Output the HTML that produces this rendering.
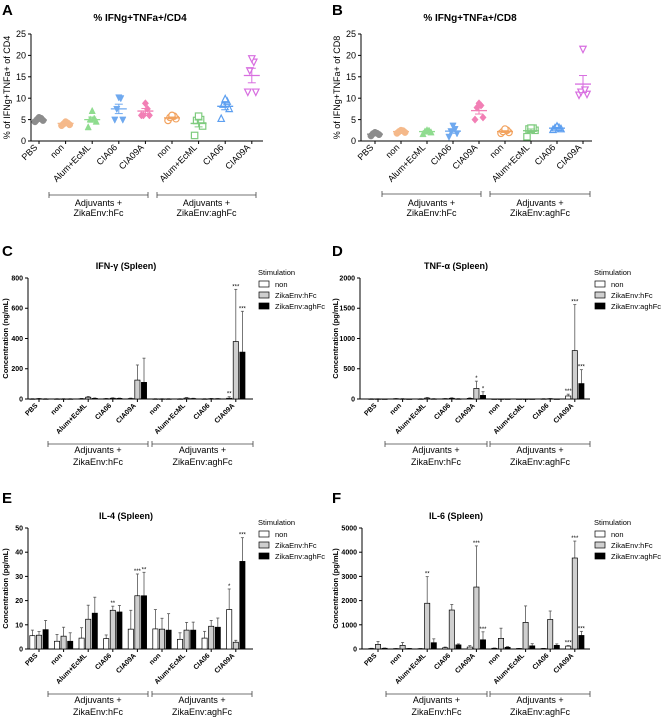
<!DOCTYPE html>
<html><head><meta charset="utf-8">
<style>
html,body{margin:0;padding:0;background:#fff;}
svg{display:block;font-family:"Liberation Sans",Arial,sans-serif;}
</style></head>
<body>
<svg id="fig" width="661" height="717" viewBox="0 0 661 717" xmlns="http://www.w3.org/2000/svg"></svg>
<script>
const cats = ["PBS","non","Alum+EcML","CIA06","CIA09A","non","Alum+EcML","CIA06","CIA09A"];
// Panel A (CD4) points
const aPts = [[4.5,4.8,5,5.3,5.5],[3.6,3.8,4,4.2,4.5],[3.2,4.5,5,5.2,7],[5,5,7.5,10,10.2],[6,6,6,7.5,8.8],[4.8,5.2,5.5,5.8,6],[1.3,3.5,4.8,5,5.8],[5.2,7.5,8.5,9.2,9.8],[11.5,11.5,16.5,18.5,19.3]];
const aMean = [4.9,4.1,5,7.5,7,5.4,4.1,8.1,15.3];
const aSem = [0.3,0.2,0.6,1.1,0.6,0.2,0.8,0.8,1.7];
// Panel B (CD8) points
const bPts = [[1.2,1.5,1.7,1.8,2],[1.8,2,2.2,2.4,2.5],[1.6,2,2.2,2.4,2.5],[1,1.8,2.3,2.8,3.6],[5,5.5,7.8,8.3,8.8],[1.8,2,2.2,2.5,2.8],[1,2.5,2.8,3,3],[2.6,2.8,3,3.1,3.4],[10.8,11,11.5,12,21.5]];
const bMean = [1.6,2.2,2.2,2.3,7.1,2.2,2.4,3,13.3];
const bSem = [0.2,0.2,0.2,0.5,0.8,0.2,0.4,0.2,2];
const scatterTicks = [0,5,10,15,20,25];
// Panel C IFN-g
const cNon = [1,1,2,2,3,1,1,1,5];
const cHfc = [2,1,12,5,125,1,6,2,380];
const cAgh = [1,1,4,4,110,1,3,2,310];
const cNonErr = [1,1,2,2,3,1,1,1,10];
const cHfcErr = [2,1,5,3,100,1,4,2,345];
const cAghErr = [1,1,3,2,160,1,2,1,270];
const cStars = [[8,0,"**"],[8,1,"***"],[8,2,"***"]];
const cTicks = [0,200,400,600,800];
// Panel D TNF-a
const dNon = [2,5,2,5,10,1,1,3,50];
const dHfc = [2,3,15,12,175,1,1,5,800];
const dAgh = [1,1,3,3,60,1,1,1,255];
const dNonErr = [2,3,3,3,8,1,1,2,30];
const dHfcErr = [2,3,10,8,120,1,1,3,760];
const dAghErr = [1,1,3,3,60,1,1,1,230];
const dStars = [[4,1,"*"],[4,2,"*"],[8,0,"***"],[8,1,"***"],[8,2,"***"]];
const dTicks = [0,500,1000,1500,2000];
// Panel E IL-4
const eNon = [5.5,3.2,4.5,4.3,8.2,8.3,4,4.5,16.3];
const eHfc = [5.7,5.3,12.3,16,22,8.2,7.8,9.4,2.8];
const eAgh = [8,3.2,14.8,15.3,22,7.8,7.8,9,36.2];
const eNonErr = [2.3,2.8,4.3,1.5,7.8,8,2.7,2.8,8.5];
const eHfcErr = [1.5,3.7,5.8,1.7,9,4.5,3.2,2.4,0.8];
const eAghErr = [3.8,3.5,6.6,2.7,9.7,6.8,3.3,3.8,9.8];
const eStars = [[3,1,"**"],[4,1,"***"],[4,2,"**"],[8,0,"*"],[8,2,"***"]];
const eTicks = [0,10,20,30,40,50];
// Panel F IL-6
const fNon = [20,15,15,50,80,30,20,20,120];
const fHfc = [190,150,1890,1610,2560,440,1100,1220,3760];
const fAgh = [30,20,260,170,380,70,130,150,560];
const fNonErr = [10,5,5,30,60,10,5,5,20];
const fHfcErr = [120,120,1100,230,1700,420,680,350,700];
const fAghErr = [10,5,160,40,330,30,90,60,170];
const fStars = [[2,1,"**"],[4,1,"***"],[4,2,"***"],[8,0,"***"],[8,1,"***"],[8,2,"***"]];
const fTicks = [0,1000,2000,3000,4000,5000];

const NS = "http://www.w3.org/2000/svg";
const svg = document.getElementById("fig");
function mk(tag, attrs, parent, txt){
  const e = document.createElementNS(NS, tag);
  for (const k in attrs) e.setAttribute(k, attrs[k]);
  if (txt !== undefined) e.textContent = txt;
  (parent || svg).appendChild(e);
  return e;
}
function grp(name, parent){
  const g = mk("g", {}, parent);
  
  
  return g;
}
function panelLetter(letter, x, y){
  const t = mk("text", {x:x, y:y, "font-size":15, "font-weight":"bold"}, svg, letter);
  
  
}
function brackets(g, y, x1, x2, x3, x4, ty, fs, lh){
  [[x1,x2,"ZikaEnv:hFc"],[x3,x4,"ZikaEnv:aghFc"]].forEach(function(b, i){
    const bg = grp(i===0 ? "group-bracket-hfc" : "group-bracket-aghfc", g);
    mk("line",{x1:b[0],y1:y,x2:b[1],y2:y,stroke:"#444","stroke-width":0.8},bg);
    mk("line",{x1:b[0],y1:y-3,x2:b[0],y2:y+3,stroke:"#444","stroke-width":0.8},bg);
    mk("line",{x1:b[1],y1:y-3,x2:b[1],y2:y+3,stroke:"#444","stroke-width":0.8},bg);
    const cx = (b[0]+b[1])/2;
    mk("text",{x:cx,y:ty,"font-size":fs,"text-anchor":"middle"},bg,"Adjuvants +");
    mk("text",{x:cx,y:ty+lh,"font-size":fs,"text-anchor":"middle"},bg,b[2]);
  });
}
function yAxis(g, x, yOf, ticks, fs, bold){
  const ag = grp("y-axis", g);
  mk("line",{x1:x,y1:yOf(ticks[ticks.length-1]),x2:x,y2:yOf(0),stroke:"#000","stroke-width":1},ag);
  ticks.forEach(function(t){
    const y = yOf(t);
    mk("line",{x1:x-3,y1:y,x2:x,y2:y,stroke:"#000","stroke-width":1},ag);
    mk("text",{x:x-5,y:y+fs*0.35,"font-size":fs,"text-anchor":"end","font-weight":bold?"bold":"normal"},ag,String(t));
  });
}
function catLabels(g, xs, axisY, fs, bold){
  const lg = grp("x-axis-labels", g);
  xs.forEach(function(x, i){
    const tx = x - 1, ty = axisY + 7;
    const t = mk("text",{x:tx,y:ty,"font-size":fs,"text-anchor":"end","font-weight":bold?"bold":"normal",transform:"rotate(-45 "+tx+" "+ty+")"},lg,cats[i]);
    
    
  });
}

/* ---------- Scatter panels ---------- */
const fillCols = ["#8c8c8c","#f5b98a","#8fdc8f","#6fa9ef","#f27fb5","#f2a25e","#7ecb7e","#5d9ff0","#d86ee0"];
const shapes = ["circle","circle","tri","dtri","diamond","ocircle","osquare","otri","odtri"];
function marker(g, shape, x, y, col){
  const r = 3.2;
  const open = shape.charAt(0)==="o" && shape!=="odtri" ? true : shape==="odtri";
  const base = open ? shape.slice(1) : shape;
  const st = open ? {fill:"#fff",stroke:col,"stroke-width":1.2} : {fill:col,stroke:col,"stroke-width":0.5};
  let e;
  if (base==="circle") e = mk("circle",Object.assign({cx:x,cy:y,r:r},st),g);
  else if (base==="square") e = mk("rect",Object.assign({x:x-r,y:y-r,width:2*r,height:2*r},st),g);
  else if (base==="tri") e = mk("polygon",Object.assign({points:(x)+","+(y-r-0.5)+" "+(x-r)+","+(y+r-0.5)+" "+(x+r)+","+(y+r-0.5)},st),g);
  else if (base==="dtri") e = mk("polygon",Object.assign({points:(x)+","+(y+r+0.5)+" "+(x-r)+","+(y-r+0.5)+" "+(x+r)+","+(y-r+0.5)},st),g);
  else e = mk("polygon",Object.assign({points:x+","+(y-r-0.5)+" "+(x+r)+","+y+" "+x+","+(y+r+0.5)+" "+(x-r)+","+y},st),g);
  
  
}
function scatterPanel(name, ox, title, ytitle, pts, means, sems, x0, dx, axisX, axisEnd){
  const g = grp(name);
  const y0 = 141, yTop = 34, ymax = 25;
  const yOf = v => y0 - (v/ymax)*(y0-yTop);
  const xOf = i => ox + x0 + i*dx;
  const tt = mk("text",{x:ox+140,y:21,"font-size":10,"font-weight":"bold","text-anchor":"middle"},g,title);
   
  const yt = mk("text",{x:0,y:0,"font-size":9,"text-anchor":"middle",transform:"translate("+(ox+10)+","+((y0+yTop)/2)+") rotate(-90)"},g,ytitle);
   
  yAxis(g, ox+axisX, yOf, scatterTicks, 9, false);
  const xa = grp("x-axis", g);
  mk("line",{x1:ox+axisX,y1:y0,x2:ox+axisEnd,y2:y0,stroke:"#000","stroke-width":1},xa);
  const xs = [];
  for (let i=0;i<pts.length;i++){
    const x = xOf(i); xs.push(x);
    mk("line",{x1:x,y1:y0,x2:x,y2:y0+3,stroke:"#000","stroke-width":1},xa);
    const sg = grp("series-"+i, g);
    const col = fillCols[i];
    const offs = [-4,4,-2,2,0];
    pts[i].forEach(function(v, k){ marker(sg, shapes[i], x + offs[k], yOf(v), col); });
    const m = mk("line",{x1:x-8,y1:yOf(means[i]),x2:x+8,y2:yOf(means[i]),stroke:col,"stroke-width":1.3},sg);
     
    mk("line",{x1:x,y1:yOf(means[i]-sems[i]),x2:x,y2:yOf(means[i]+sems[i]),stroke:col,"stroke-width":1},sg);
    mk("line",{x1:x-4,y1:yOf(means[i]-sems[i]),x2:x+4,y2:yOf(means[i]-sems[i]),stroke:col,"stroke-width":1},sg);
    mk("line",{x1:x-4,y1:yOf(means[i]+sems[i]),x2:x+4,y2:yOf(means[i]+sems[i]),stroke:col,"stroke-width":1},sg);
  }
  catLabels(g, xs, y0, 9, false);
}

/* ---------- Bar panels ---------- */
function barPanel(name, ox, oy, title, ticks, non, hfc, agh, nonE, hfcE, aghE, stars, axisX, x0, axisEnd, b1, b2, legX){
  const g = grp(name);
  const y0 = oy + 139, yTop = oy + 18;
  const ymax = ticks[ticks.length-1];
  const yOf = v => y0 - (v/ymax)*(y0-yTop);
  const dx = 24.6, bw = 5.2, off = 6.6;
  const tt = mk("text",{x:ox+126,y:oy+9,"font-size":9,"font-weight":"bold","text-anchor":"middle"},g,title);
   
  const yt = mk("text",{x:0,y:0,"font-size":7.5,"font-weight":"bold","text-anchor":"middle",transform:"translate("+(ox+8)+","+((y0+yTop)/2)+") rotate(-90)"},g,"Concentration (" + (name.indexOf("ifn")===0 ? "ng/mL" : "pg/mL") + ")");
   
  yAxis(g, axisX, yOf, ticks, 7, true);
  const xa = grp("x-axis", g);
  mk("line",{x1:axisX,y1:y0,x2:axisEnd,y2:y0,stroke:"#000","stroke-width":1},xa);
  const series = [[non,nonE,"#fff"],[hfc,hfcE,"#cfcfcf"],[agh,aghE,"#000"]];
  const xs = [];
  for (let i=0;i<cats.length;i++){
    const cx = x0 + i*dx; xs.push(cx);
    mk("line",{x1:cx,y1:y0,x2:cx,y2:y0+3,stroke:"#000","stroke-width":1},xa);
    series.forEach(function(s, k){
      const bx = cx + (k-1)*off;
      const top = yOf(s[0][i]);
      const etop = yOf(s[0][i] + s[1][i]);
      const eg = grp("error-bar", g);
      mk("line",{x1:bx,y1:top,x2:bx,y2:etop,stroke:"#555","stroke-width":0.8},eg);
      mk("line",{x1:bx-1.5,y1:etop,x2:bx+1.5,y2:etop,stroke:"#555","stroke-width":0.8},eg);
      const r = mk("rect",{x:bx-bw/2,y:top,width:bw,height:Math.max(y0-top,0.5),fill:s[2],stroke:"#000","stroke-width":0.7},g);
      
      
    });
  }
  stars.forEach(function(st){
    const i = st[0], k = st[1];
    const s = series[k];
    const bx = x0 + i*dx + (k-1)*off;
    const t = mk("text",{x:bx,y:yOf(s[0][i]+s[1][i])-1,"font-size":6,"text-anchor":"middle"},g,st[2]);
     
  });
  catLabels(g, xs, y0, 7, true);
  brackets(g, oy+184, b1[0], b1[1], b2[0], b2[1], oy+193, 9, 12);
  const lg = grp("legend", g);
  mk("text",{x:legX,y:oy+15,"font-size":7.5},lg,"Stimulation");
  const labs = ["non","ZikaEnv:hFc","ZikaEnv:aghFc"], fills = ["#fff","#cfcfcf","#000"];
  labs.forEach(function(l, k){
    const ly = oy + 21 + k*11;
    const e = grp("legend-entry", lg);
    mk("rect",{x:legX+1,y:ly,width:10,height:6,fill:fills[k],stroke:"#000","stroke-width":0.7},e);
    mk("text",{x:legX+17,y:ly+6,"font-size":7.5},e,l);
  });
}

panelLetter("A",2,15);
panelLetter("B",332,15);
panelLetter("C",2,256);
panelLetter("D",332,256);
panelLetter("E",2,503);
panelLetter("F",332,503);

scatterPanel("panel-a-cd4", 0, "% IFNg+TNFa+/CD4", "% of IFNg+TNFa+ of CD4", aPts, aMean, aSem, 39, 26.6, 31, 263);
brackets(svg, 195, 49, 148, 157, 256, 206, 9, 10);
scatterPanel("panel-b-cd8", 330, "% IFNg+TNFa+/CD8", "% of IFNg+TNFa+ of CD8", bPts, bMean, bSem, 45, 26, 31, 262);
brackets(svg, 194, 382, 481, 490, 590, 206, 9, 10);

barPanel("ifn-gamma-panel", 0, 260, "IFN-\u03b3 (Spleen)", cTicks, cNon, cHfc, cAgh, cNonErr, cHfcErr, cAghErr, cStars, 28, 39, 253, [48,148], [152,253], 258);
barPanel("tnf-alpha-panel", 330, 260, "TNF-\u03b1 (Spleen)", dTicks, dNon, dHfc, dAgh, dNonErr, dHfcErr, dAghErr, dStars, 360, 378, 590, [385,487], [490,590], 594);
barPanel("il4-panel", 0, 510, "IL-4 (Spleen)", eTicks, eNon, eHfc, eAgh, eNonErr, eHfcErr, eAghErr, eStars, 28, 39, 253, [48,148], [152,252], 258);
barPanel("il6-panel", 330, 510, "IL-6 (Spleen)", fTicks, fNon, fHfc, fAgh, fNonErr, fHfcErr, fAghErr, fStars, 362, 378, 590, [386,487], [490,590], 594);
</script>
</body></html>
